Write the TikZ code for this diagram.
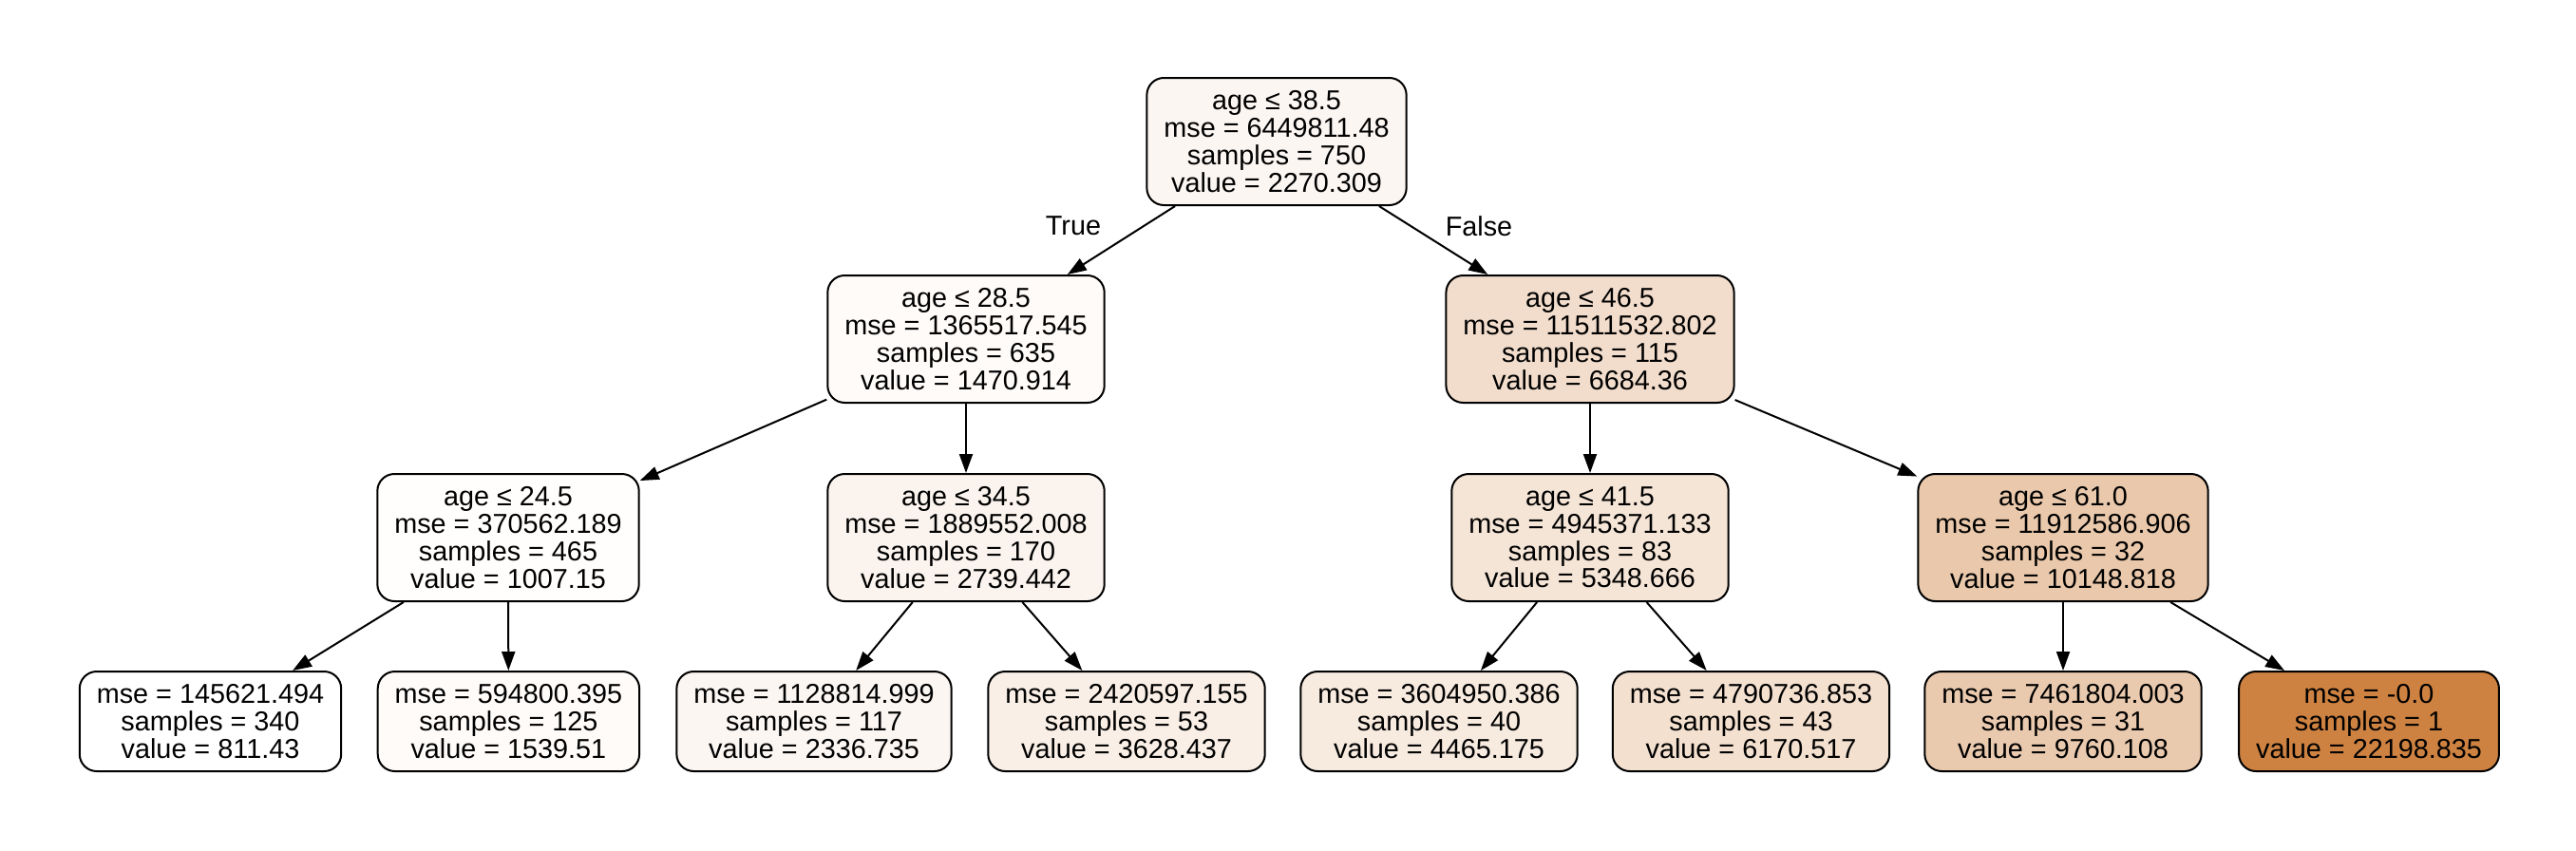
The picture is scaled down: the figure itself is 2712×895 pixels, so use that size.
\documentclass[tikz,border=0pt]{standalone}
\usepackage{fontspec}
\setmainfont{Liberation Sans}
\usepackage{tikz}
\usetikzlibrary{arrows.meta}
\definecolor{valorange}{RGB}{206,130,65}
\tikzset{splitnode/.style={draw=black,line width=1bp,rounded corners=9bp,align=center,inner xsep=9bp,inner ysep=0pt,minimum height=67bp},
leafnode/.style={splitnode,minimum height=52.5bp}}

\begin{document}
\begin{tikzpicture}[x=0.5bp,y=-0.5bp,font=\fontsize{14.4bp}{14.4bp}\selectfont]

\tikzset{arrowline/.style={line width=1bp,-{Triangle[length=10bp,width=7bp]}}}

\useasboundingbox (0,0) rectangle (2712,895);

% Root
\node[splitnode,fill=valorange!7] (n0) at (1344,149) {age ≤ 38.5\\mse = 6449811.48\\samples = 750\\value = 2270.309};

% Split nodes
\node[splitnode,fill=valorange!3] (n1) at (1017,357) {age ≤ 28.5\\mse = 1365517.545\\samples = 635\\value = 1470.914};
\node[splitnode,fill=valorange!27] (n8) at (1674,357) {age ≤ 46.5\\mse = 11511532.802\\samples = 115\\value = 6684.36};
\node[splitnode,fill=valorange!1] (n2) at (535,566) {age ≤ 24.5\\mse = 370562.189\\samples = 465\\value = 1007.15};
\node[splitnode,fill=valorange!9] (n5) at (1017,566) {age ≤ 34.5\\mse = 1889552.008\\samples = 170\\value = 2739.442};
\node[splitnode,fill=valorange!21] (n9) at (1674,566) {age ≤ 41.5\\mse = 4945371.133\\samples = 83\\value = 5348.666};
\node[splitnode,fill=valorange!44] (n12) at (2172,566) {age ≤ 61.0\\mse = 11912586.906\\samples = 32\\value = 10148.818};

% Leaves
\node[leafnode,fill=white] (n3) at (221.5,759.5) {mse = 145621.494\\samples = 340\\value = 811.43};
\node[leafnode,fill=valorange!3] (n4) at (535.4,759.5) {mse = 594800.395\\samples = 125\\value = 1539.51};
\node[leafnode,fill=valorange!7] (n6) at (857,759.5) {mse = 1128814.999\\samples = 117\\value = 2336.735};
\node[leafnode,fill=valorange!13] (n7) at (1186,759.5) {mse = 2420597.155\\samples = 53\\value = 3628.437};
\node[leafnode,fill=valorange!17] (n10) at (1515,759.5) {mse = 3604950.386\\samples = 40\\value = 4465.175};
\node[leafnode,fill=valorange!25] (n11) at (1843.5,759.5) {mse = 4790736.853\\samples = 43\\value = 6170.517};
\node[leafnode,fill=valorange!42] (n13) at (2172,759.5) {mse = 7461804.003\\samples = 31\\value = 9760.108};
\node[leafnode,fill=valorange] (n14) at (2494,759.5) {mse = -0.0\\samples = 1\\value = 22198.835};

% Edge labels
\node (tlabel) at (1130,238) {True};
\node (flabel) at (1557,238) {False};

% Edges
\foreach \a/\b in {0/1,0/8,1/2,1/5,2/3,2/4,5/6,5/7,8/9,8/12,9/10,9/11,12/13,12/14} \draw[arrowline] (n\a) -- (n\b);

\end{tikzpicture}
\end{document}
